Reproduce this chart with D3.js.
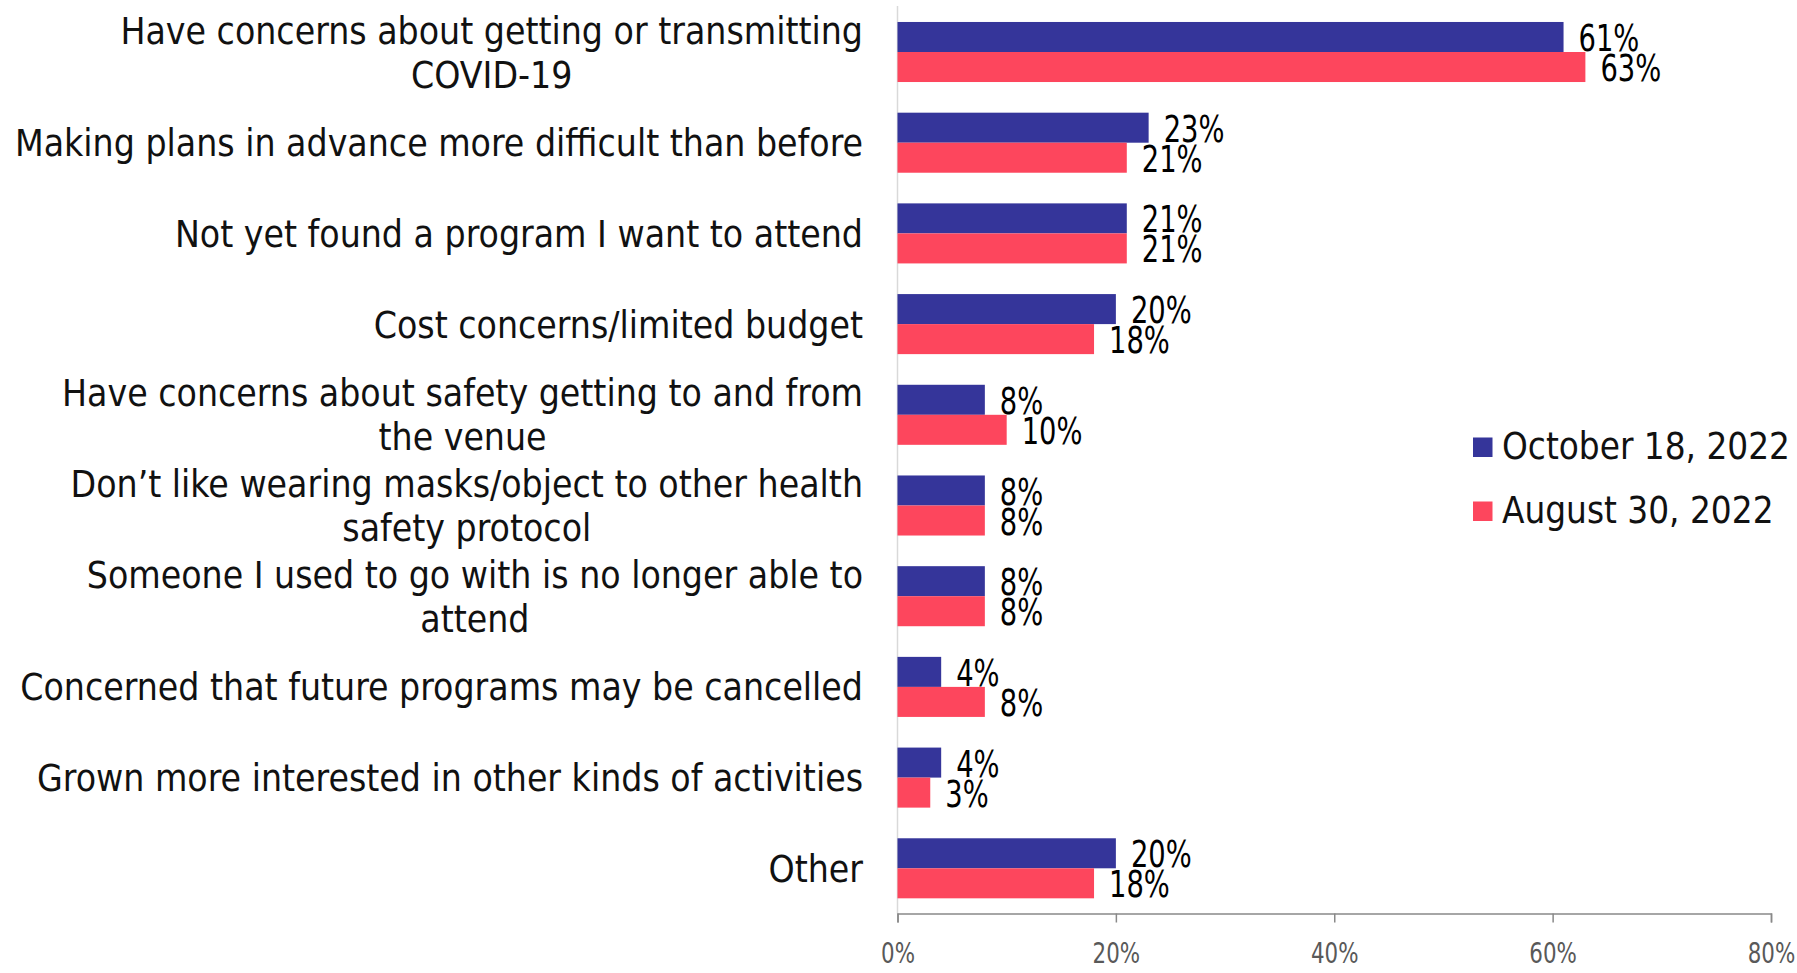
<!DOCTYPE html>
<html>
<head>
<meta charset="utf-8">
<script src="https://cdn.jsdelivr.net/npm/d3@7/dist/d3.min.js"></script>
<style>
  html, body { margin: 0; padding: 0; background: #ffffff; }
  svg { display: block; }
</style>
</head>
<body>
<svg id="chart" width="1797" height="973"></svg>
<script>
// Reasons for not attending yet, two survey waves (share of respondents)
const categories = [
  "Have concerns about getting or transmitting\nCOVID-19",
  "Making plans in advance more difficult than before",
  "Not yet found a program I want to attend",
  "Cost concerns/limited budget",
  "Have concerns about safety getting to and from\nthe venue",
  "Don\u2019t like wearing masks/object to other health\nsafety protocol",
  "Someone I used to go with is no longer able to\nattend",
  "Concerned that future programs may be cancelled",
  "Grown more interested in other kinds of activities",
  "Other"
];
const seriesNames = ["October 18, 2022", "August 30, 2022"];
const october18 = [0.61, 0.23, 0.21, 0.20, 0.08, 0.08, 0.08, 0.04, 0.04, 0.20];
const august30  = [0.63, 0.21, 0.21, 0.18, 0.10, 0.08, 0.08, 0.08, 0.03, 0.18];
const tickValues = [0, 0.2, 0.4, 0.6, 0.8];

const colors = ["#35359a", "#fd465d"];
const seriesValues = [october18, august30];

const rows = categories.map((c, i) => ({
  label: c,
  values: seriesValues.map((vals, s) => ({ series: s, value: vals[i] }))
}));

const svg = d3.select("#chart");
const labelFont = "'DejaVu Sans Condensed', 'DejaVu Sans', sans-serif";
const numScale = 0.8;

const x = d3.scaleLinear().domain([0, 0.8]).range([897.5, 1771]);
const y = d3.scaleBand()
  .domain(categories)
  .range([6.65, 913.65])
  .paddingInner(0.338)
  .paddingOuter(0.169);
const ySub = d3.scaleBand()
  .domain(d3.range(seriesNames.length))
  .range([0, y.bandwidth()]);

// light vertical category axis
svg.append("line")
  .attr("x1", x(0)).attr("x2", x(0))
  .attr("y1", 6).attr("y2", 913.5)
  .attr("stroke", "#d9d9d9")
  .attr("stroke-width", 1.5);

// bars
const groups = svg.append("g").selectAll("g")
  .data(rows)
  .join("g")
  .attr("transform", d => `translate(0,${y(d.label)})`);

groups.selectAll("rect")
  .data(d => d.values)
  .join("rect")
  .attr("x", x(0))
  .attr("y", d => ySub(d.series))
  .attr("width", d => x(d.value) - x(0))
  .attr("height", ySub.bandwidth())
  .attr("fill", d => colors[d.series]);

// value labels
groups.selectAll("text.val")
  .data(d => d.values)
  .join("text")
  .attr("class", "val")
  .attr("transform", d => `translate(${x(d.value) + 15},${ySub(d.series) + ySub.bandwidth() - 1}) scale(${numScale},1)`)
  .attr("font-family", labelFont)
  .attr("font-size", 38)
  .attr("fill", "#000")
  .text(d => d3.format(".0%")(d.value));

// category labels, right aligned as a block, lines centred within it
const labelRight = 863;
const lineGap = 44;
const catLabels = svg.append("g").selectAll("text")
  .data(rows)
  .join("text")
  .attr("font-family", labelFont)
  .attr("font-size", 37)
  .attr("fill", "#111")
  .attr("text-anchor", "middle");

catLabels.each(function(d) {
  const t = d3.select(this);
  const lines = d.label.split("\n");
  const cy = y(d.label) + y.bandwidth() / 2;
  const spans = lines.map((ln, k) => t.append("tspan")
    .attr("y", cy + 13.5 + (k - (lines.length - 1) / 2) * lineGap)
    .text(ln));
  const widest = d3.max(spans, s => s.node().getComputedTextLength());
  spans.forEach(s => s.attr("x", labelRight - widest / 2));
});

// value axis
const xAxis = d3.axisBottom(x)
  .tickValues(tickValues)
  .tickFormat(d3.format(".0%"))
  .tickSize(9)
  .tickSizeOuter(9);

const axisG = svg.append("g")
  .attr("transform", "translate(0,913.5)")
  .call(xAxis);
axisG.select(".domain").attr("stroke", "#898989").attr("stroke-width", 1.5);
axisG.selectAll(".tick line").attr("stroke", "#898989").attr("stroke-width", 1.5);
axisG.selectAll(".tick text")
  .attr("y", 49.5)
  .attr("dy", 0)
  .attr("transform", `scale(0.82,1)`)
  .attr("font-family", labelFont)
  .attr("font-size", 29)
  .attr("fill", "#595959");

// legend
const legend = svg.append("g").selectAll("g")
  .data(seriesNames)
  .join("g")
  .attr("transform", (d, i) => `translate(1473,${437.5 + i * 64})`);
legend.append("rect")
  .attr("width", 19.5).attr("height", 19.5)
  .attr("fill", (d, i) => colors[i]);
legend.append("text")
  .attr("x", 29)
  .attr("y", 21.8)
  .attr("font-family", labelFont)
  .attr("font-size", 36.5)
  .attr("fill", "#111")
  .text(d => d);
</script>
</body>
</html>
